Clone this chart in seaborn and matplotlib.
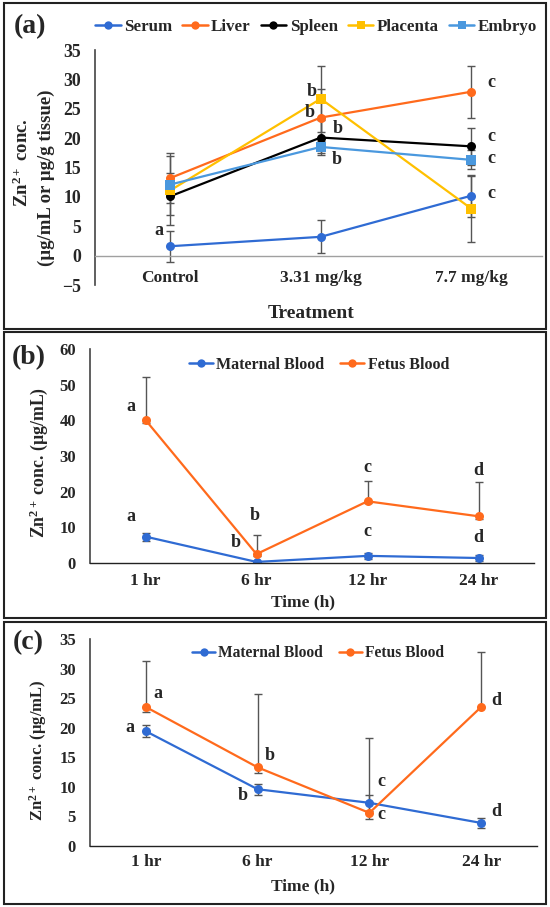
import numpy as np
import pandas as pd
import matplotlib
matplotlib.use("Agg")
import matplotlib.pyplot as plt
import seaborn as sns
from matplotlib.lines import Line2D
from matplotlib.patches import Rectangle

# Panel (a) data
treatments = ["Control", "3.31 mg/kg", "7.7 mg/kg"]
tissues = ["Serum", "Liver", "Spleen", "Placenta", "Embryo"]
serum = [1.6, 3.2, 10.2]
liver = [13.2, 23.5, 27.9]
spleen = [10.1, 20.1, 18.6]
placenta = [11.1, 26.7, 8.0]
embryo = [12.1, 18.5, 16.3]
serum_sd = [2.6, 2.8, 3.6]
liver_sd = [4.3, 4.8, 4.4]
spleen_sd = [3.1, 3.0, 3.2]
placenta_sd = [5.9, 5.6, 5.6]
embryo_sd = [2.0, 1.0, 1.6]

# Panel (b) data
times = ["1 hr", "6 hr", "12 hr", "24 hr"]
maternal_b = [7.4, 0.3, 2.0, 1.4]
maternal_b_sd = [1.1, 0.2, 0.9, 0.8]
fetus_b = [40.1, 2.5, 17.3, 13.1]
fetus_b_up = [12.1, 5.3, 5.7, 9.6]
fetus_b_low = [0.9, 0.5, 0.5, 0.8]

# Panel (c) data
maternal_c = [19.4, 9.6, 7.3, 3.9]
maternal_c_sd = [1.0, 0.9, 1.4, 0.8]
fetus_c = [23.5, 13.3, 5.6, 23.5]
fetus_c_up = [7.8, 12.4, 12.7, 9.3]
fetus_c_low = [0.8, 1.0, 1.0, 0.0]

sns.set_theme(style="white")
plt.rcParams["font.family"] = ["Liberation Serif", "DejaVu Serif"]
plt.rcParams["font.weight"] = "bold"
plt.rcParams["mathtext.fontset"] = "custom"
plt.rcParams["mathtext.rm"] = "Liberation Serif:bold"
plt.rcParams["mathtext.it"] = "Liberation Serif:italic:bold"
plt.rcParams["mathtext.bf"] = "Liberation Serif:bold"

W, H = 550, 907
fig = plt.figure(figsize=(W / 100, H / 100), dpi=100)


def px_axes(x0, y0, x1, y1):
    return fig.add_axes([x0 / W, 1 - y1 / H, (x1 - x0) / W, (y1 - y0) / H])


def fig_xy(x, y):
    return x / W, 1 - y / H


colors = {
    "Serum": "#2F6BD3",
    "Liver": "#FF6A1C",
    "Spleen": "#000000",
    "Placenta": "#FFC000",
    "Embryo": "#4A98DE",
    "Maternal Blood": "#2F6BD3",
    "Fetus Blood": "#FF6A1C",
}
markers = {
    "Serum": "o", "Liver": "o", "Spleen": "o", "Placenta": "s", "Embryo": "s",
    "Maternal Blood": "o", "Fetus Blood": "o",
}
err_color = "#555555"
letter_size = 13


def style_axes(ax, ylim, yticks, cats, xlim, pad_x, tick_size, cat_size, zero_color):
    # spine position first: moving it resets the x ticks
    for s in ["top", "right"]:
        ax.spines[s].set_visible(False)
    ax.spines["bottom"].set_position(("data", 0))
    ax.spines["bottom"].set_color(zero_color)
    ax.spines["bottom"].set_linewidth(1.0)
    ax.spines["left"].set_color("#444444")
    ax.spines["left"].set_linewidth(1.2)
    ax.set_xlim(*xlim)
    ax.set_ylim(*ylim)
    ax.set_yticks(yticks)
    ax.set_xticks(range(len(cats)))
    ax.set_xticklabels(cats)
    ax.tick_params(axis="y", direction="out", length=4, width=1, color="#444444",
                   pad=6, labelsize=tick_size)
    ax.tick_params(axis="x", length=0, pad=pad_x, labelsize=cat_size)
    for lab in ax.get_xticklabels() + ax.get_yticklabels():
        lab.set_fontweight("bold")
    ax.set_xlabel("")
    ax.set_ylabel("")
    ax.patch.set_alpha(0)


def draw_series(ax, names, means, lows, ups):
    rows = []
    for name, m in zip(names, means):
        for i, v in enumerate(m):
            rows.append({"pos": i, "value": v, "series": name})
    df = pd.DataFrame(rows)
    for name, m, lo, up in zip(names, means, lows, ups):
        ax.errorbar(range(len(m)), m, yerr=[lo, up], fmt="none", ecolor=err_color,
                    elinewidth=1, capsize=3, capthick=1, zorder=1)
    sns.lineplot(data=df, x="pos", y="value", hue="series", style="series",
                 hue_order=names, style_order=names,
                 palette={n: colors[n] for n in names},
                 markers={n: markers[n] for n in names}, dashes=False,
                 markersize=6.5, markeredgewidth=0, linewidth=1.6,
                 legend=False, ax=ax, zorder=2)


def letters(ax, items):
    # dx, dy in screen pixels (dy positive = downwards)
    for x, y, txt, dx, dy in items:
        ax.annotate(txt, xy=(x, y), xytext=(dx * 0.72, -dy * 0.72),
                    textcoords="offset points", ha="center", va="center",
                    fontsize=letter_size, fontweight="bold", zorder=5)


def make_legend(names, center, size, colsp):
    handles = [Line2D([], [], color=colors[n], marker=markers[n], markersize=6,
                      markeredgewidth=0, lw=1.8) for n in names]
    fig.legend(handles, names, loc="center", bbox_to_anchor=fig_xy(*center),
               ncol=len(names), frameon=False, handlelength=1.5,
               handletextpad=0.2, columnspacing=colsp,
               prop={"weight": "bold", "size": size})


# ---------------- panel (a) ----------------
ax_a = px_axes(95, 50, 542, 285)
a_means = [serum, liver, spleen, placenta, embryo]
a_sds = [serum_sd, liver_sd, spleen_sd, placenta_sd, embryo_sd]
draw_series(ax_a, tissues, a_means, a_sds, a_sds)
style_axes(ax_a, (-5, 35), range(-5, 40, 5), treatments, (-0.5, 2.47), 10, 12.8, 12.5, "#A0A0A0")
letters(ax_a, [
    (0, serum[0], "a", -11, -16),
    (1, placenta[1], "b", -9, -7),
    (1, liver[1], "b", -11, -5),
    (1, spleen[1], "b", 17, -9),
    (1, embryo[1], "b", 16, 13),
    (2, liver[2], "c", 20, -9),
    (2, spleen[2], "c", 20, -10),
    (2, embryo[2], "c", 20, -1),
    (2, serum[2], "c", 20, -2),
])
fig.text(*fig_xy(22, 163), "Zn$^{2+}$ conc.", rotation=90, ha="center", va="center",
         fontsize=13.5, fontweight="bold")
fig.text(*fig_xy(46, 178), "(µg/mL or µg/g tissue)", rotation=90, ha="center",
         va="center", fontsize=13.5, fontweight="bold")
fig.text(*fig_xy(311, 313), "Treatment", ha="center", va="center", fontsize=14,
         fontweight="bold")
fig.text(*fig_xy(30, 27), "(a)", ha="center", va="center", fontsize=20, fontweight="bold")
make_legend(tissues, (316, 27), 12.2, 0.6)

# ---------------- panel (b) ----------------
ax_b = px_axes(90, 349, 534, 563)
draw_series(ax_b, ["Maternal Blood", "Fetus Blood"], [maternal_b, fetus_b],
            [maternal_b_sd, fetus_b_low], [maternal_b_sd, fetus_b_up])
style_axes(ax_b, (0, 60), range(0, 70, 10), times, (-0.5, 3.5), 7, 12, 12.5, "#222222")
letters(ax_b, [
    (0, fetus_b[0], "a", -15, -13),
    (0, maternal_b[0], "a", -15, -20),
    (1, fetus_b[1], "b", -2, -39),
    (1, maternal_b[1], "b", -21, -19),
    (2, fetus_b[2], "c", 0, -34),
    (2, maternal_b[2], "c", 0, -24),
    (3, fetus_b[3], "d", 0, -46),
    (3, maternal_b[3], "d", 0, -21),
])
fig.text(*fig_xy(39, 463), "Zn$^{2+}$ conc. (µg/mL)", rotation=90, ha="center",
         va="center", fontsize=12.8, fontweight="bold")
fig.text(*fig_xy(303, 602), "Time (h)", ha="center", va="center", fontsize=12.5,
         fontweight="bold")
fig.text(*fig_xy(29, 358), "(b)", ha="center", va="center", fontsize=20, fontweight="bold")
make_legend(["Maternal Blood", "Fetus Blood"], (319, 365), 11.5, 1.0)

# ---------------- panel (c) ----------------
ax_c = px_axes(90, 639, 537, 846)
draw_series(ax_c, ["Maternal Blood", "Fetus Blood"], [maternal_c, fetus_c],
            [maternal_c_sd, fetus_c_low], [maternal_c_sd, fetus_c_up])
style_axes(ax_c, (0, 35), range(0, 40, 5), times, (-0.5, 3.5), 6, 12, 12.5, "#222222")
letters(ax_c, [
    (0, fetus_c[0], "a", 12, -14),
    (0, maternal_c[0], "a", -16, -4),
    (1, fetus_c[1], "b", 12, -12),
    (1, maternal_c[1], "b", -15, 6),
    (2, maternal_c[2], "c", 12, -21),
    (2, fetus_c[2], "c", 12, 2),
    (3, fetus_c[3], "d", 15, -7),
    (3, maternal_c[3], "d", 15, -11),
])
fig.text(*fig_xy(38, 750), "Zn$^{2+}$ conc. (µg/mL)", rotation=90, ha="center",
         va="center", fontsize=12, fontweight="bold")
fig.text(*fig_xy(303, 886), "Time (h)", ha="center", va="center", fontsize=12.5,
         fontweight="bold")
fig.text(*fig_xy(28, 643), "(c)", ha="center", va="center", fontsize=20, fontweight="bold")
make_legend(["Maternal Blood", "Fetus Blood"], (318, 653), 11.2, 1.0)

# panel frames
for y0, y1 in [(3, 329), (332, 618), (622, 904)]:
    x0, x1 = 4, 546
    fig.add_artist(Rectangle((x0 / W, 1 - y1 / H), (x1 - x0) / W, (y1 - y0) / H,
                             transform=fig.transFigure, fill=False,
                             edgecolor="#222222", linewidth=1.5))

fig.savefig("out.png", dpi=100)
